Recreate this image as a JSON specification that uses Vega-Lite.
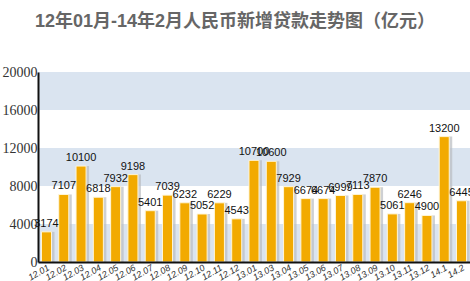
{
  "$schema": "https://vega.github.io/schema/vega-lite/v6.json",
  "width": 432,
  "height": 190,
  "autosize": {"type": "none"},
  "padding": {"left": 38, "top": 72, "right": 0, "bottom": 19},
  "background": "white",
  "title": {
    "text": "12年01月-14年2月人民币新增贷款走势图（亿元）",
    "font": "Liberation Sans, Noto Sans CJK SC",
    "fontSize": 18,
    "fontWeight": "bold",
    "color": "#666666",
    "anchor": "middle",
    "dx": -19,
    "offset": 34
  },
  "config": {
    "view": {"stroke": null},
    "axisQuantitative": {"labelOverlap": false},
    "axisY": {"labelOverlap": false, "zindex": 1}
  },
  "datasets": {
    "bands": [
      {"value": 0, "value_end": 4000},
      {"value": 8000, "value_end": 12000},
      {"value": 16000, "value_end": 20000}
    ],
    "loans": [
      {"month": "12.01", "value": 3174},
      {"month": "12.02", "value": 7107},
      {"month": "12.03", "value": 10100},
      {"month": "12.04", "value": 6818},
      {"month": "12.05", "value": 7932},
      {"month": "12.06", "value": 9198},
      {"month": "12.07", "value": 5401},
      {"month": "12.08", "value": 7039},
      {"month": "12.09", "value": 6232},
      {"month": "12.10", "value": 5052},
      {"month": "12.11", "value": 6229},
      {"month": "12.12", "value": 4543},
      {"month": "13.01", "value": 10700},
      {"month": "13.03", "value": 10600},
      {"month": "13.04", "value": 7929},
      {"month": "13.05", "value": 6674},
      {"month": "13.06", "value": 6674},
      {"month": "13.07", "value": 6999},
      {"month": "13.08", "value": 7113},
      {"month": "13.09", "value": 7870},
      {"month": "13.10", "value": 5061},
      {"month": "13.11", "value": 6246},
      {"month": "13.12", "value": 4900},
      {"month": "14.1", "value": 13200},
      {"month": "14.2", "value": 6445}
    ]
  },
  "layer": [
    {
      "data": {"name": "bands"},
      "mark": {"type": "rect", "color": "#dae4f0"},
      "encoding": {
        "y": {
          "field": "value", "type": "quantitative", "scale": {"domain": [0, 20000]},
          "axis": {"values": [0, 4000, 8000, 12000, 16000, 20000], "labelOverlap": false, "zindex": 1, "title": null, "grid": false, "ticks": false, "labelFontSize": 14, "labelColor": "#333333", "labelFont": "Liberation Sans Narrow", "domainColor": "#111111", "domainWidth": 2, "labelPadding": 1, "format": "d"}
        },
        "y2": {"field": "value_end"}
      }
    },
    {
      "data": {"name": "loans"},
      "mark": {"type": "bar", "color": "#b9bcc0", "opacity": 0.7, "xOffset": 3},
      "encoding": {
        "x": {
          "field": "month", "type": "nominal", "sort": null,
          "scale": {"paddingInner": 0.42, "paddingOuter": 0.2},
          "axis": {
            "title": null, "labelAngle": -30, "labelFontSize": 9, "labelColor": "#333333",
            "labelFont": "Liberation Sans", "labelFontStyle": "italic", "zindex": 1,
            "ticks": false, "domainColor": "#111111", "domainWidth": 2, "labelPadding": 1
          }
        },
        "y": {
          "field": "value", "type": "quantitative",
          "axis": {"values": [0, 4000, 8000, 12000, 16000, 20000], "labelOverlap": false, "zindex": 1, "title": null, "grid": false, "ticks": false, "labelFontSize": 14, "labelColor": "#333333", "labelFont": "Liberation Sans Narrow", "domainColor": "#111111", "domainWidth": 2, "labelPadding": 1, "format": "d"}
        }
      }
    },
    {
      "data": {"name": "loans"},
      "mark": {"type": "bar", "color": "#f2aa00", "stroke": "#fff6d8", "strokeWidth": 1},
      "encoding": {
        "x": {"field": "month", "type": "nominal", "sort": null},
        "y": {
          "field": "value", "type": "quantitative",
          "axis": {"values": [0, 4000, 8000, 12000, 16000, 20000], "labelOverlap": false, "zindex": 1, "title": null, "grid": false, "ticks": false, "labelFontSize": 14, "labelColor": "#333333", "labelFont": "Liberation Sans Narrow", "domainColor": "#111111", "domainWidth": 2, "labelPadding": 1, "format": "d"}
        }
      }
    },
    {
      "data": {"name": "loans"},
      "mark": {"type": "text", "baseline": "bottom", "dy": -3, "fontSize": 11, "font": "Liberation Sans Narrow, Liberation Sans", "color": "#111111"},
      "encoding": {
        "x": {"field": "month", "type": "nominal", "sort": null},
        "y": {
          "field": "value", "type": "quantitative",
          "axis": {"values": [0, 4000, 8000, 12000, 16000, 20000], "labelOverlap": false, "zindex": 1, "title": null, "grid": false, "ticks": false, "labelFontSize": 14, "labelColor": "#333333", "labelFont": "Liberation Sans Narrow", "domainColor": "#111111", "domainWidth": 2, "labelPadding": 1, "format": "d"}
        },
        "text": {"field": "value", "type": "quantitative", "format": "d"}
      }
    }
  ]
}
